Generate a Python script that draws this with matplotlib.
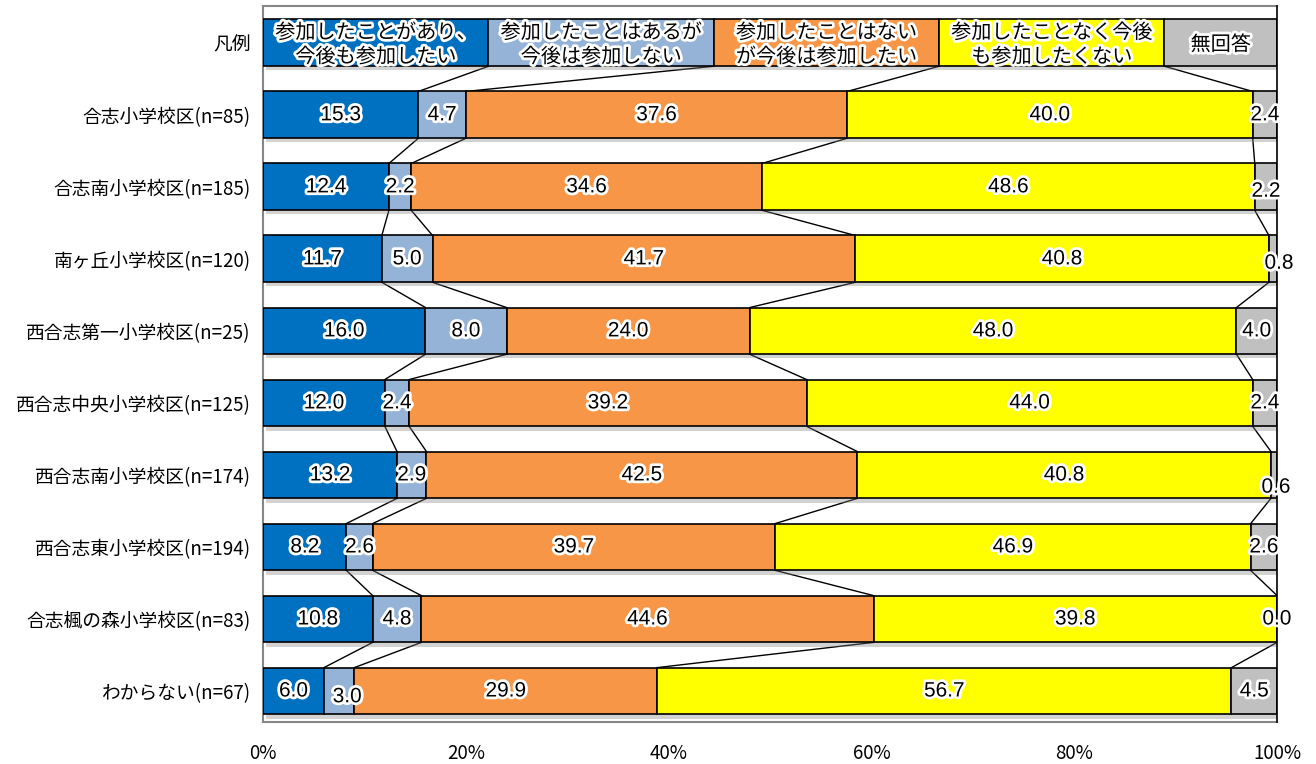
import numpy as np
import matplotlib
matplotlib.use('Agg')
import matplotlib.pyplot as plt
import matplotlib.patheffects as pe

plt.rcParams['font.family'] = ['Noto Sans CJK JP', 'DejaVu Sans']

# 回答区分
answers = ['参加したことがあり、\n今後も参加したい',
           '参加したことはあるが\n今後は参加しない',
           '参加したことはない\nが今後は参加したい',
           '参加したことなく今後\nも参加したくない',
           '無回答']
colors = ['#0070C0', '#95B3D7', '#F79646', '#FFFF00', '#C0C0C0']
legend_share = [2, 2, 2, 2, 1]

districts = ['合志小学校区(n=85)', '合志南小学校区(n=185)', '南ヶ丘小学校区(n=120)',
             '西合志第一小学校区(n=25)', '西合志中央小学校区(n=125)', '西合志南小学校区(n=174)',
             '西合志東小学校区(n=194)', '合志楓の森小学校区(n=83)', 'わからない(n=67)']
join_again = [15.3, 12.4, 11.7, 16.0, 12.0, 13.2, 8.2, 10.8, 6.0]
join_not_again = [4.7, 2.2, 5.0, 8.0, 2.4, 2.9, 2.6, 4.8, 3.0]
new_join = [37.6, 34.6, 41.7, 24.0, 39.2, 42.5, 39.7, 44.6, 29.9]
never_join = [40.0, 48.6, 40.8, 48.0, 44.0, 40.8, 46.9, 39.8, 56.7]
no_answer = [2.4, 2.2, 0.8, 4.0, 2.4, 0.6, 2.6, 0.0, 4.5]

vals = np.array([join_again, join_not_again, new_join, never_join, no_answer]).T
pct = vals / vals.sum(axis=1, keepdims=True) * 100
leg = np.array(legend_share, dtype=float)
leg = leg / leg.sum() * 100

rows = np.vstack([leg, pct])
ylabels = ['凡例'] + districts
y = np.arange(len(rows))
h = 0.65

fig = plt.figure(figsize=(13.16, 7.64), dpi=100)
ax = fig.add_axes([0.2, 0.055, 0.7704, 0.937])

glow = [pe.withStroke(linewidth=4, foreground='white')]
shadow = [pe.SimplePatchShadow(offset=(2, -3), shadow_rgbFace='#808080', alpha=0.35), pe.Normal()]

left = np.zeros(len(rows))
for j in range(5):
    bars = ax.barh(y, rows[:, j], left=left, height=h, color=colors[j],
                   edgecolor='black', linewidth=1.2, zorder=3)
    for b in bars:
        b.set_path_effects(shadow)
    left = left + rows[:, j]

# 系列線
cum = np.cumsum(rows, axis=1)
for i in range(len(rows) - 1):
    for j in range(4):
        ax.plot([cum[i, j], cum[i + 1, j]], [y[i] + h / 2, y[i + 1] - h / 2],
                color='black', linewidth=1, zorder=2)

# 凡例の文字
lstart = np.concatenate([[0], cum[0, :-1]])
for j in range(5):
    ax.text(lstart[j] + rows[0, j] / 2, 0.03, answers[j], ha='center', va='center',
            fontsize=14.5, linespacing=1.2, zorder=7, path_effects=glow)

# 数値ラベル
nudge = {(2, 4): (0, 0.06), (3, 4): (0.6, 0.06), (6, 4): (0.2, 0.17),
         (9, 1): (0.8, 0.08)}
for i in range(1, len(rows)):
    start = np.concatenate([[0], cum[i, :-1]])
    for j in range(5):
        dx, dy = nudge.get((i, j), (0, 0))
        ax.text(start[j] + rows[i, j] / 2 + dx, y[i] + dy, f'{vals[i - 1, j]:.1f}',
                ha='center', va='center', fontsize=15, family=['Liberation Sans'],
                zorder=7, path_effects=glow)

ax.set_xlim(0, 100)
ax.set_ylim(9.43, -0.51)
ax.set_yticks(y)
ax.set_yticklabels(ylabels, fontsize=13.5)
ax.set_xticks(np.arange(0, 101, 20))
ax.set_xticklabels([f'{v}%' for v in range(0, 101, 20)], fontsize=13.5)
ax.tick_params(axis='both', length=0)
ax.tick_params(axis='x', pad=15)
ax.tick_params(axis='y', pad=9)
for s in ['left', 'top', 'bottom']:
    ax.spines[s].set_color('#878787')
    ax.spines[s].set_linewidth(1.5)
ax.spines['right'].set_color('black')
ax.spines['right'].set_linewidth(1.2)
ax.spines['right'].set_zorder(6)

fig.savefig('out.png', dpi=100)
